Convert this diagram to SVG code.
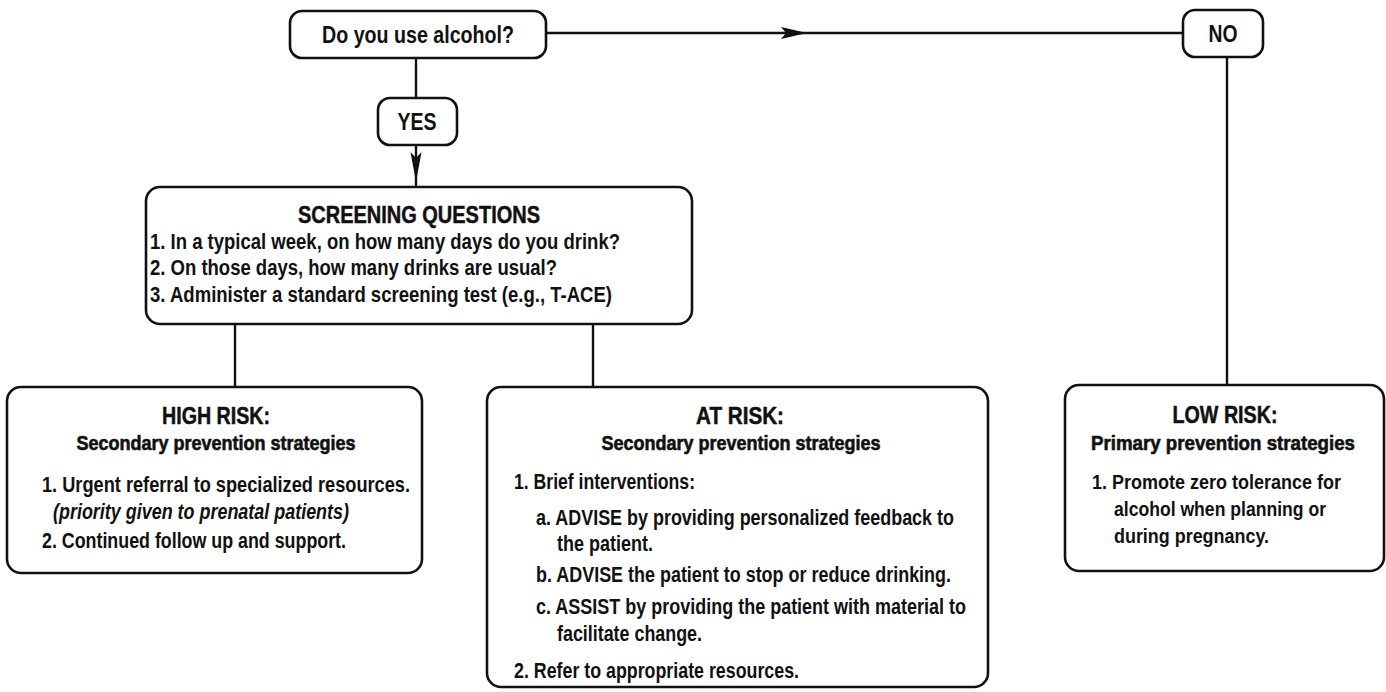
<svg xmlns="http://www.w3.org/2000/svg" width="1386" height="692" viewBox="0 0 1386 692">
<style>
.box{fill:#fff;stroke:#111;stroke-width:2.6}
.ln{fill:none;stroke:#111;stroke-width:2.4}
.ah{fill:#111;stroke:none}
text{font-family:"Liberation Sans",Arial,sans-serif;font-weight:bold;fill:#111}
.lbl{font-size:24px}
.hd{font-size:24px;stroke:#111;stroke-width:0.5}
.sub{font-size:20px;stroke:#111;stroke-width:0.6}
.bd{font-size:22px}
.bs{font-size:20.5px}
.it{font-style:italic}
.c{text-anchor:middle}
</style>
<rect width="1386" height="692" fill="#fff"/>
<g id="connectors">
<line class="ln" x1="416" y1="58" x2="416" y2="98"/>
<line class="ln" x1="416" y1="145" x2="416" y2="187"/>
<path class="ah" d="M416,182 L410.5,152 L416,158 L421.5,152 Z"/>
<line class="ln" x1="546" y1="33" x2="1183" y2="33"/>
<path class="ah" d="M807,33 L781,27 L786,33 L781,39 Z"/>
<line class="ln" x1="1227" y1="57" x2="1227" y2="385"/>
<line class="ln" x1="235" y1="324" x2="235" y2="387"/>
<line class="ln" x1="593" y1="324" x2="593" y2="387"/>
</g>
<g id="n-alcohol">
<rect class="box" x="290" y="11" width="256" height="47" rx="12"/>
<text class="lbl c" x="418" y="43" textLength="192" lengthAdjust="spacingAndGlyphs">Do you use alcohol?</text>
</g>
<g id="n-no">
<rect class="box" x="1183" y="10" width="80" height="47" rx="12"/>
<text class="lbl c" x="1223" y="42" textLength="29" lengthAdjust="spacingAndGlyphs">NO</text>
</g>
<g id="n-yes">
<rect class="box" x="378" y="98" width="79" height="47" rx="12"/>
<text class="lbl c" x="417" y="130" textLength="39" lengthAdjust="spacingAndGlyphs">YES</text>
</g>
<g id="n-screening">
<rect class="box" x="146" y="187" width="546" height="137" rx="14"/>
<text class="hd c" x="419" y="223" textLength="242" lengthAdjust="spacingAndGlyphs">SCREENING QUESTIONS</text>
<text class="bd" x="150" y="249" textLength="470" lengthAdjust="spacingAndGlyphs">1. In a typical week, on how many days do you drink?</text>
<text class="bd" x="150" y="275" textLength="407" lengthAdjust="spacingAndGlyphs">2. On those days, how many drinks are usual?</text>
<text class="bd" x="150" y="302" textLength="462" lengthAdjust="spacingAndGlyphs">3. Administer a standard screening test (e.g., T-ACE)</text>
</g>
<g id="n-high">
<rect class="box" x="7" y="387" width="415" height="186" rx="14"/>
<text class="hd c" x="216" y="424" textLength="108" lengthAdjust="spacingAndGlyphs">HIGH RISK:</text>
<text class="sub c" x="216" y="450" textLength="279" lengthAdjust="spacingAndGlyphs">Secondary prevention strategies</text>
<text class="bd" x="42" y="492" textLength="368" lengthAdjust="spacingAndGlyphs">1. Urgent referral to specialized resources.</text>
<text class="bd it" x="53" y="519" textLength="296" lengthAdjust="spacingAndGlyphs">(priority given to prenatal patients)</text>
<text class="bd" x="42" y="548" textLength="304" lengthAdjust="spacingAndGlyphs">2. Continued follow up and support.</text>
</g>
<g id="n-at">
<rect class="box" x="487" y="387" width="501" height="300" rx="14"/>
<text class="hd c" x="740" y="424" textLength="88" lengthAdjust="spacingAndGlyphs">AT RISK:</text>
<text class="sub c" x="741" y="450" textLength="279" lengthAdjust="spacingAndGlyphs">Secondary prevention strategies</text>
<text class="bd" x="514" y="489" textLength="181" lengthAdjust="spacingAndGlyphs">1. Brief interventions:</text>
<text class="bd" x="536" y="525" textLength="418" lengthAdjust="spacingAndGlyphs">a. ADVISE by providing personalized feedback to</text>
<text class="bd" x="557" y="551" textLength="96" lengthAdjust="spacingAndGlyphs">the patient.</text>
<text class="bd" x="536" y="582" textLength="415" lengthAdjust="spacingAndGlyphs">b. ADVISE the patient to stop or reduce drinking.</text>
<text class="bd" x="536" y="614" textLength="430" lengthAdjust="spacingAndGlyphs">c. ASSIST by providing the patient with material to</text>
<text class="bd" x="557" y="641" textLength="145" lengthAdjust="spacingAndGlyphs">facilitate change.</text>
<text class="bd" x="514" y="678" textLength="285" lengthAdjust="spacingAndGlyphs">2. Refer to appropriate resources.</text>
</g>
<g id="n-low">
<rect class="box" x="1065" y="385" width="319" height="186" rx="14"/>
<text class="hd c" x="1225" y="423" textLength="105" lengthAdjust="spacingAndGlyphs">LOW RISK:</text>
<text class="sub c" x="1223" y="450" textLength="264" lengthAdjust="spacingAndGlyphs">Primary prevention strategies</text>
<text class="bs" x="1092" y="489" textLength="249" lengthAdjust="spacingAndGlyphs">1. Promote zero tolerance for</text>
<text class="bs" x="1114" y="516" textLength="212" lengthAdjust="spacingAndGlyphs">alcohol when planning or</text>
<text class="bs" x="1114" y="543" textLength="155" lengthAdjust="spacingAndGlyphs">during pregnancy.</text>
</g>
</svg>
